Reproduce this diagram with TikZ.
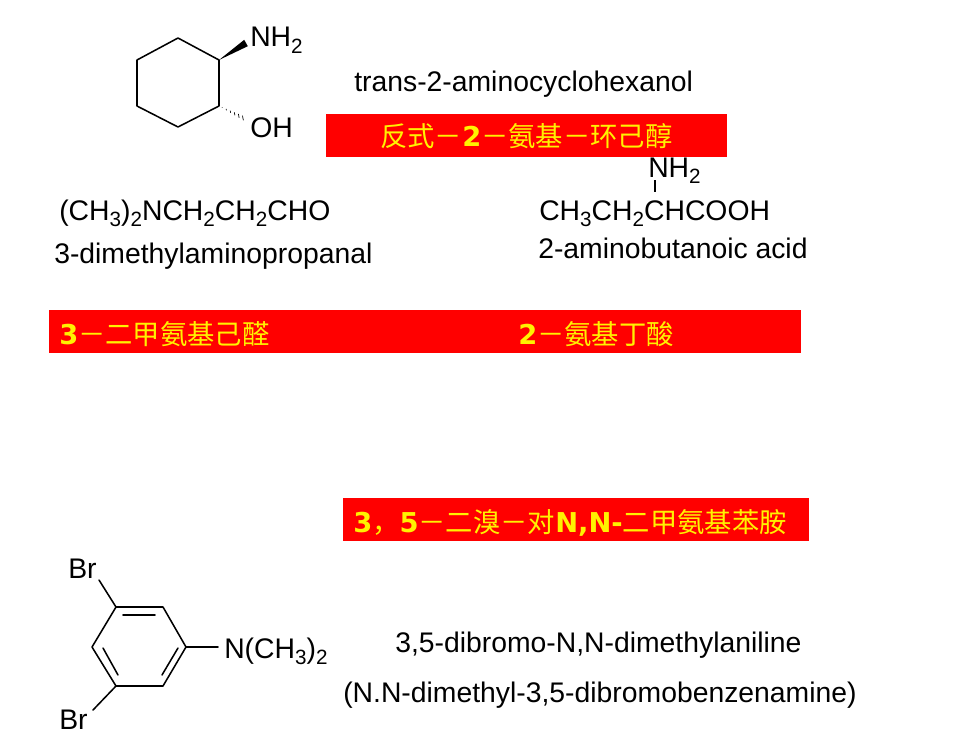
\documentclass[tikz,border=0pt]{standalone}
\usepackage{fontspec}
\setmainfont{Liberation Sans}
\newfontfamily\cjkfont{Noto Sans CJK SC}
\newfontfamily\numfont{DejaVu Sans}
\usetikzlibrary{positioning,calc}
\newcommand{\lowidx}[1]{\raisebox{-0.22em}{\fontsize{15.5}{16}\selectfont #1}}
\newcommand{\boldnum}[1]{{\numfont\bfseries #1}}
\tikzset{
	chemtext/.style={anchor=base west, inner sep=0pt, font=\fontsize{21.25}{23}\selectfont, text=black},
	redbar/.style={fill=red, draw=none, inner sep=0pt, anchor=north west},
	bartext/.style={anchor=base west, inner sep=0pt, text=yellow, font=\cjkfont\fontsize{20.5}{22}\selectfont},
	bond/.style={line width=1.15pt, line cap=round, line join=round}
}

\begin{document}
\begin{tikzpicture}[x=0.75pt, y=-0.75pt]
	\useasboundingbox (0, 0) rectangle (980, 735);

	% text that the first bar partly covers
	\path (648, 177) node[chemtext] (nhtop) {NH\lowidx{2}};

	\path (326, 114) node[redbar, minimum width=300.75pt, minimum height=32.25pt] (barone) {}
	      (49, 310)  node[redbar, minimum width=564pt, minimum height=32.25pt] (bartwo) {}
	      (343, 498) node[redbar, minimum width=349.5pt, minimum height=32.25pt] (barthree) {};

	\path (380, 146) node[bartext] (nameone) {反式－\boldnum{2}－氨基－环己醇}
	      (59, 344)  node[bartext] (nametwo) {\boldnum{3}－二甲氨基己醛}
	      (518, 344) node[bartext] (namethree) {\boldnum{2}－氨基丁酸}
	      (353, 532) node[bartext] (namefour) {\boldnum{3}，\boldnum{5}－二溴－对\boldnum{N,N-}二甲氨基苯胺};

	\path (354, 91)  node[chemtext] (transname) {trans-2-aminocyclohexanol}
	      (250, 47)  node[chemtext] (nhring) {NH\lowidx{2}}
	      (250, 137) node[chemtext] (ohring) {OH}
	      (59, 220)  node[chemtext] (aldform) {(CH\lowidx{3})\lowidx{2}NCH\lowidx{2}CH\lowidx{2}CHO}
	      (54, 263)  node[chemtext] (aldname) {3-dimethylaminopropanal}
	      (539, 220) node[chemtext] (acidform) {CH\lowidx{3}CH\lowidx{2}CHCOOH}
	      (538, 258) node[chemtext] (acidname) {2-aminobutanoic acid}
	      (68, 578)  node[chemtext] (brtop) {Br}
	      (59, 729)  node[chemtext] (brbot) {Br}
	      (224, 658) node[chemtext] (namine) {N(CH\lowidx{3})\lowidx{2}}
	      (395, 652) node[chemtext] (dibromo) {3,5-dibromo-N,N-dimethylaniline}
	      (343, 702) node[chemtext] (benzname) {(N.N-dimethyl-3,5-dibromobenzenamine)};

	% cyclohexane ring
	\path (178, 38)  coordinate (ca)
	      (219, 60)  coordinate (cb)
	      (219, 106) coordinate (cc)
	      (178, 127) coordinate (cd)
	      (137, 106) coordinate (ce)
	      (137, 60)  coordinate (cf)
	      (246, 43)  coordinate (wedgeend)
	      (245, 119) coordinate (hashend);
	\draw[bond] (ca) -- (cb) -- (cc) -- (cd) -- (ce) -- (cf) -- cycle;
	\fill (cb) -- ($(wedgeend)+(-1.8,-3.2)$) -- ($(wedgeend)+(1.8,3.2)$) -- cycle;
	\foreach \t in {0.12,0.28,0.44,0.6,0.76,0.92}
		\draw[line width=0.5pt] ($(cc)!\t!(hashend)+(-0.5*\t,-2.6*\t)$) -- ($(cc)!\t!(hashend)+(0.5*\t,2.6*\t)$);

	% bond between NH2 and the chain
	\path (655, 180) coordinate (ticktop)
	      (655, 192) coordinate (tickbot);
	\draw[line width=0.8pt] (ticktop) -- (tickbot);

	% benzene ring
	\path (116, 607) coordinate (ra)
	      (163, 607) coordinate (rb)
	      (186, 647) coordinate (rc)
	      (163, 686) coordinate (rd)
	      (116, 686) coordinate (re)
	      (92, 647)  coordinate (rf)
	      (99, 580)  coordinate (brtopend)
	      (93, 710)  coordinate (brbotend)
	      (218, 647) coordinate (nend);
	\draw[bond] (ra) -- (rb) -- (rc) -- (rd) -- (re) -- (rf) -- cycle;
	\draw[bond] (123, 615) -- (155, 615);
	\draw[bond] (178, 648) -- (162, 675);
	\draw[bond] (103, 648) -- (118, 675);
	\draw[bond] (ra) -- (brtopend);
	\draw[bond] (re) -- (brbotend);
	\draw[bond] (rc) -- (nend);
\end{tikzpicture}
\end{document}
